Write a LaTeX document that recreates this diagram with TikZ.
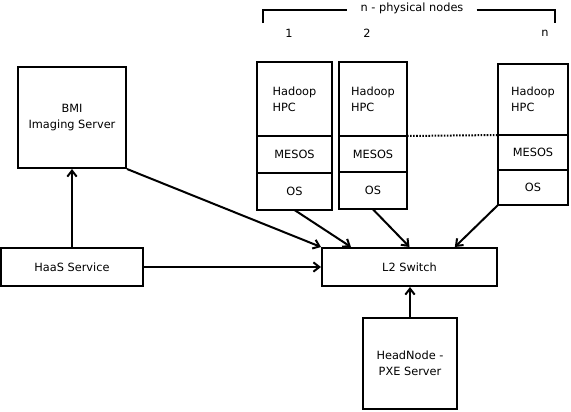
\documentclass[tikz,border=0pt]{standalone}
\usepackage{fontspec}
\setmainfont{DejaVu Sans}
\usetikzlibrary{arrows.meta, positioning}

\begin{document}
\begin{tikzpicture}[
  x=0.75pt, y=-0.75pt,
  box/.style={rectangle, draw, line width=1.5pt, align=center, font=\fontsize{8.5}{12}\selectfont},
  layer/.style={box, outer sep=0pt, minimum height=27.75pt},
  hpc/.style={layer, align=left, minimum height=55.5pt},
  lbl/.style={font=\fontsize{8.5}{12}\selectfont},
  arrow/.style={-{Straight Barb[length=4.5pt, width=7pt]}, line width=1.5pt}
]
  \useasboundingbox (0,0) rectangle (571,411);

  \node[box, minimum width=81pt, minimum height=75.75pt] (bmi) at (72,117.5) {BMI\\Imaging Server};
  \node[box, minimum width=106.5pt, minimum height=28.5pt] (haas) at (72,267) {HaaS Service};
  \node[box, minimum width=131.25pt, minimum height=28.5pt] (sw) at (409.5,267) {L2 Switch};
  \node[box, minimum width=70.5pt, minimum height=68.25pt] (head) at (410,363.5) {HeadNode -\\PXE Server};

  \node[hpc, minimum width=56.25pt] (h1) at (294.5,99) {Hadoop\\HPC};
  \node[layer, minimum width=56.25pt, below=0pt of h1] (m1) {MESOS};
  \node[layer, minimum width=56.25pt, below=0pt of m1] (o1) {OS};

  \node[hpc, minimum width=51pt] (h2) at (373,99) {Hadoop\\HPC};
  \node[layer, minimum width=51pt, minimum height=27.25pt, below=0pt of h2] (m2) {MESOS};
  \node[layer, minimum width=51pt, below=0pt of m2] (o2) {OS};

  \node[hpc, minimum width=52.5pt, minimum height=53.25pt] (hn) at (533,99.5) {Hadoop\\HPC};
  \node[layer, minimum width=52.5pt, minimum height=26.25pt, below=0pt of hn] (mn) {MESOS};
  \node[layer, minimum width=52.5pt, minimum height=26.25pt, below=0pt of mn] (on) {OS};

  \node[lbl] (n1) at (289,33) {1};
  \node[lbl] (n2) at (367,33) {2};
  \node[lbl] (nn) at (545,33) {n};
  \node[lbl, inner xsep=9.75pt] (title) at (412,8) {n - physical nodes};

  \coordinate (bl) at (263,10);
  \coordinate (br) at (555,10);
  \draw[line width=1.5pt] (263,23) -- (bl) -- (bl -| title.west);
  \draw[line width=1.5pt] (br -| title.east) -- (br) -- (555,23);

  \draw[line width=1.5pt, dash pattern=on 1.2pt off 1.1pt] (m2.north east) -- (mn.north west);

  \draw[arrow] (haas) -- (bmi);
  \draw[arrow] (haas) -- (sw);
  \draw[arrow] (bmi.south east) -- (sw.north west);
  \draw[arrow] (o1.south) -- ([xshift=22.5pt]sw.north west);
  \draw[arrow] (o2.south) -- (sw.north);
  \draw[arrow] (on.south west) -- ([xshift=34pt]sw.north);
  \draw[arrow] (head.north) -- (head.north |- sw.south);
\end{tikzpicture}
\end{document}
